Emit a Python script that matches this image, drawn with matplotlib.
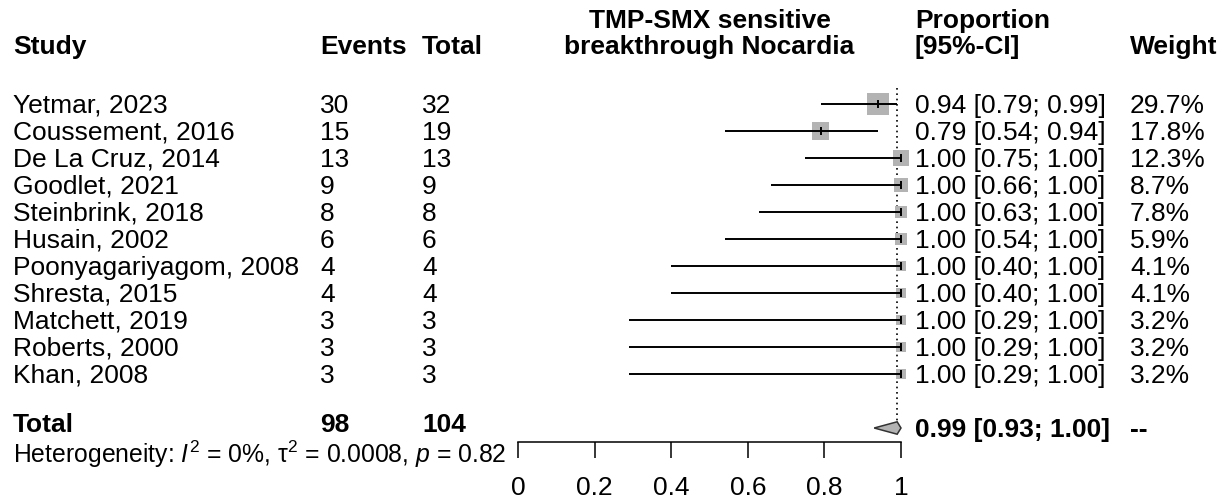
import matplotlib
matplotlib.use("Agg")
import matplotlib.pyplot as plt
import matplotlib.transforms as mtrans
import numpy as np

# ---------------- data ----------------
studies = ["Yetmar, 2023", "Coussement, 2016", "De La Cruz, 2014", "Goodlet, 2021",
           "Steinbrink, 2018", "Husain, 2002", "Poonyagariyagom, 2008", "Shresta, 2015",
           "Matchett, 2019", "Roberts, 2000", "Khan, 2008"]
events = [30, 15, 13, 9, 8, 6, 4, 4, 3, 3, 3]
totals = [32, 19, 13, 9, 8, 6, 4, 4, 3, 3, 3]
prop = [0.94, 0.79, 1.00, 1.00, 1.00, 1.00, 1.00, 1.00, 1.00, 1.00, 1.00]
lower = [0.79, 0.54, 0.75, 0.66, 0.63, 0.54, 0.40, 0.40, 0.29, 0.29, 0.29]
upper = [0.99, 0.94, 1.00, 1.00, 1.00, 1.00, 1.00, 1.00, 1.00, 1.00, 1.00]
weights = [29.7, 17.8, 12.3, 8.7, 7.8, 5.9, 4.1, 4.1, 3.2, 3.2, 3.2]
pooled_est, pooled_lo, pooled_hi = 0.99, 0.93, 1.00
total_events, total_n = 98, 104
het_i2, het_tau2, het_p = "0%", "0.0008", "0.82"
xticks = [0, 0.2, 0.4, 0.6, 0.8, 1]
xticklabels = ["0", "0.2", "0.4", "0.6", "0.8", "1"]
header_plot = ["TMP-SMX sensitive", "breakthrough Nocardia"]

# ---------------- style ----------------
plt.rcParams["font.family"] = ["Liberation Sans", "DejaVu Sans"]
plt.rcParams["mathtext.fontset"] = "custom"
plt.rcParams["mathtext.rm"] = "Liberation Sans"
plt.rcParams["mathtext.it"] = "Liberation Sans:italic"
FS = 19
W, H = 1225, 503
fig = plt.figure(figsize=(W / 100, H / 100), dpi=100)

# forest panel (x: 518..901 px, bottom axis line at 442 px)
x0_px, x1_px, axis_px = 518, 901, 442
row0_px, row_h = 104, 27
ax = fig.add_axes([x0_px / W, (H - axis_px) / H, (x1_px - x0_px) / W, axis_px / H])
ax.set_xlim(0, 1)
ax.set_ylim((axis_px - row0_px) / row_h, -row0_px / row_h)
for s in ["top", "right", "left"]:
    ax.spines[s].set_visible(False)
ax.spines["bottom"].set_bounds(0, 1)
ax.spines["bottom"].set_linewidth(1.1)
ax.set_yticks([])
ax.set_xticks(xticks)
ax.set_xticklabels(xticklabels)
ax.tick_params(axis="x", direction="out", length=11.5, width=1.1, pad=13, labelsize=FS)
ax.patch.set_alpha(0)

n = len(studies)
rows = np.arange(n)
total_row = n + 1
het_row = n + 1.98

# CI lines
ax.hlines(rows, lower, upper, color="black", lw=1.4, zorder=3, clip_on=False)
# squares (area grows with weight)
wmax = max(weights)
side_px = 3 + 19 * np.sqrt(np.array(weights) / wmax)
ax.scatter(prop, rows, marker="s", s=(side_px * 0.72) ** 2, color="#b3b3b3",
           linewidths=0, zorder=2, clip_on=False)
# estimate ticks
ax.scatter(prop, rows, marker="|", s=28, color="black", linewidths=1.4, zorder=4, clip_on=False)
# pooled diamond
dh = 0.23
ax.fill([pooled_lo, pooled_est, pooled_hi, pooled_est],
        [total_row, total_row - dh, total_row, total_row + dh],
        facecolor="#b3b3b3", edgecolor="#333333", lw=1.1, zorder=3, clip_on=False)
# reference dotted line
ax.vlines(pooled_est, -0.6, total_row - dh, color="black", lw=1.2,
          linestyles=(0, (1, 2.2)), zorder=1, clip_on=False)

# ---------------- text columns ----------------
tr = mtrans.blended_transform_factory(fig.transFigure, ax.transData)

def col(px):
    return px / W

tdy = 0.06
x_study, x_ev, x_tot, x_ci, x_w = 13, 320, 422, 915, 1130
h1, h2 = -3.08, -2.1

bold = dict(transform=tr, fontsize=FS, fontweight="bold", va="center")
reg = dict(transform=tr, fontsize=FS, va="center", ha="left")

ax.text(col(x_study), h2, "Study", ha="left", **bold)
ax.text(col(x_ev), h2, "Events", ha="left", **bold)
ax.text(col(x_tot), h2, "Total", ha="left", **bold)
xc = col((x0_px + x1_px) / 2)
ax.text(xc, h1, header_plot[0], ha="center", **bold)
ax.text(xc, h2, header_plot[1], ha="center", **bold)
ax.text(col(x_ci), h1, "Proportion", ha="left", **bold)
ax.text(col(x_ci), h2, "[95%-CI]", ha="left", **bold)
ax.text(col(x_w), h2, "Weight", ha="left", **bold)

for i in range(n):
    y = rows[i] + tdy
    ax.text(col(x_study), y, studies[i], **reg)
    ax.text(col(x_ev), y, f"{events[i]}", **reg)
    ax.text(col(x_tot), y, f"{totals[i]}", **reg)
    ax.text(col(x_ci), y, f"{prop[i]:.2f} [{lower[i]:.2f}; {upper[i]:.2f}]", **reg)
    ax.text(col(x_w), y, f"{weights[i]:.1f}%", **reg)

y = total_row - 0.12
ax.text(col(x_study), y, "Total", ha="left", **bold)
ax.text(col(x_ev), y, f"{total_events}", ha="left", **bold)
ax.text(col(x_tot), y, f"{total_n}", ha="left", **bold)
ax.text(col(x_ci), total_row + tdy, f"{pooled_est:.2f} [{pooled_lo:.2f}; {pooled_hi:.2f}]",
        ha="left", **bold)
ax.text(col(x_w), total_row + tdy, "--", ha="left", **bold)

het = (r"Heterogeneity: $\mathit{I}^{2}$ = " + het_i2 + r", τ$^{2}$ = " + het_tau2 +
       r", $\mathit{p}$ = " + het_p)
ax.text(col(x_study), het_row, het, transform=tr, fontsize=17.8, va="center", ha="left")

fig.savefig("out.png", dpi=100)
